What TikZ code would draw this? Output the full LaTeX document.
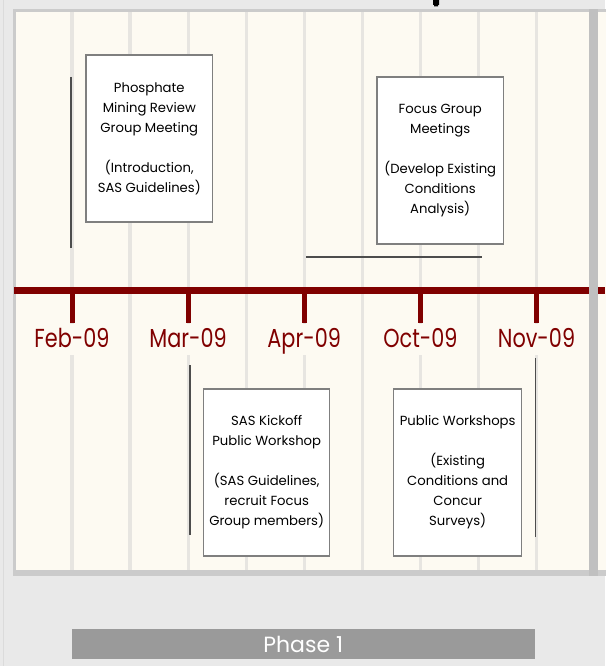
\documentclass[tikz,border=0pt]{standalone}
\usepackage{fontspec}
\setmainfont{Poppins}
\newfontfamily\lblfont[FakeStretch=0.8]{Poppins}
\definecolor{bgc}{HTML}{E9E9E9}
\definecolor{panelborder}{HTML}{CBCBCB}
\definecolor{cream}{HTML}{FDFAF2}
\definecolor{stripe}{HTML}{E7E5E1}
\definecolor{tlred}{HTML}{800000}
\definecolor{rbar}{HTML}{C0C0C0}
\definecolor{boxgrey}{HTML}{7F7F7F}
\definecolor{leader}{HTML}{4D4D4D}
\definecolor{phgrey}{HTML}{9A9A9A}
\tikzset{
  evbox/.style={draw=boxgrey, line width=1.2pt, fill=white, minimum height=167pt,
    inner sep=0pt, align=center, font=\fontsize{13.2}{20}\selectfont},
  datelbl/.style={text=tlred, anchor=base, inner sep=0pt, font=\lblfont\fontsize{26}{26}\selectfont},
  leaderline/.style={draw=leader, line width=1.6pt},
  phasebar/.style={fill=phgrey, text=white, minimum width=462.7pt, minimum height=30pt,
    inner sep=0pt, font=\fontsize{22}{22}\selectfont}
}
\begin{document}
\begin{tikzpicture}[x=1pt,y=-1pt]
\useasboundingbox (0,0) rectangle (605,666);
\fill[bgc] (0,0) rectangle (605,666);
\draw[panelborder!70, line width=0.8pt] (3,0) -- (3,666);
% panel
\fill[panelborder] (13,9) rectangle (615,576);
\fill[cream] (16,12) rectangle (615,570);
% stripes
\foreach \k in {0,...,8} {
  \fill[stripe] ({72+58.06*\k-1.6},12) rectangle ({72+58.06*\k+1.6},570);
}
% timeline
\fill[tlred] (14,287) rectangle (605,293.5);
\foreach \x/\lab/\nm in {72/Feb-09/feb, 188.1/Mar-09/mar, 304.2/Apr-09/apr, 420.4/Oct-09/oct, 536.5/Nov-09/nov} {
  \fill[tlred] (\x-2.5,290) rectangle (\x+2.5,323);
  \fill[cream] (\x-3,323.5) rectangle (\x+3,355);
  \node[datelbl] (\nm) at (\x,347) {\lab};
}
% right separator bar
\fill[rbar] (588.5,9) rectangle (598,576);
% small mark at top
\fill[black] (433,0) rectangle (439,5) (434,5) rectangle (438,6.5);
% leader lines
\coordinate (la1) at (71,77);   \coordinate (la2) at (71,248);
\coordinate (lb1) at (306,257); \coordinate (lb2) at (482,257);
\coordinate (lc1) at (190,365); \coordinate (lc2) at (190,535);
\coordinate (ld1) at (535.5,358); \coordinate (ld2) at (535.5,537);
\draw[leaderline] (la1) -- (la2);
\draw[leaderline] (lb1) -- (lb2);
\draw[leaderline] (lc1) -- (lc2);
\draw[leaderline] (ld1) -- (ld2);
% event boxes
\node[evbox, minimum width=126.6pt] (b1) at (149.3,138.5)
  {Phosphate\\Mining Review\\Group Meeting\\[20pt](Introduction,\\SAS Guidelines)};
\node[evbox, minimum width=126.5pt] (b2) at (440.2,160.5)
  {Focus Group\\Meetings\\[20pt](Develop Existing\\Conditions\\Analysis)};
\node[evbox, minimum width=126pt] (b3) at (266.7,472.5)
  {SAS Kickoff\\Public Workshop\\[20pt](SAS Guidelines,\\recruit Focus\\Group members)};
\node[evbox, minimum width=128pt] (b4) at (457.7,472.5)
  {Public Workshops\\[20pt](Existing\\Conditions and\\Concur\\Surveys)};
% phase bar
\node[phasebar] (ph) at (303.2,644) {Phase 1};
\end{tikzpicture}
\end{document}
